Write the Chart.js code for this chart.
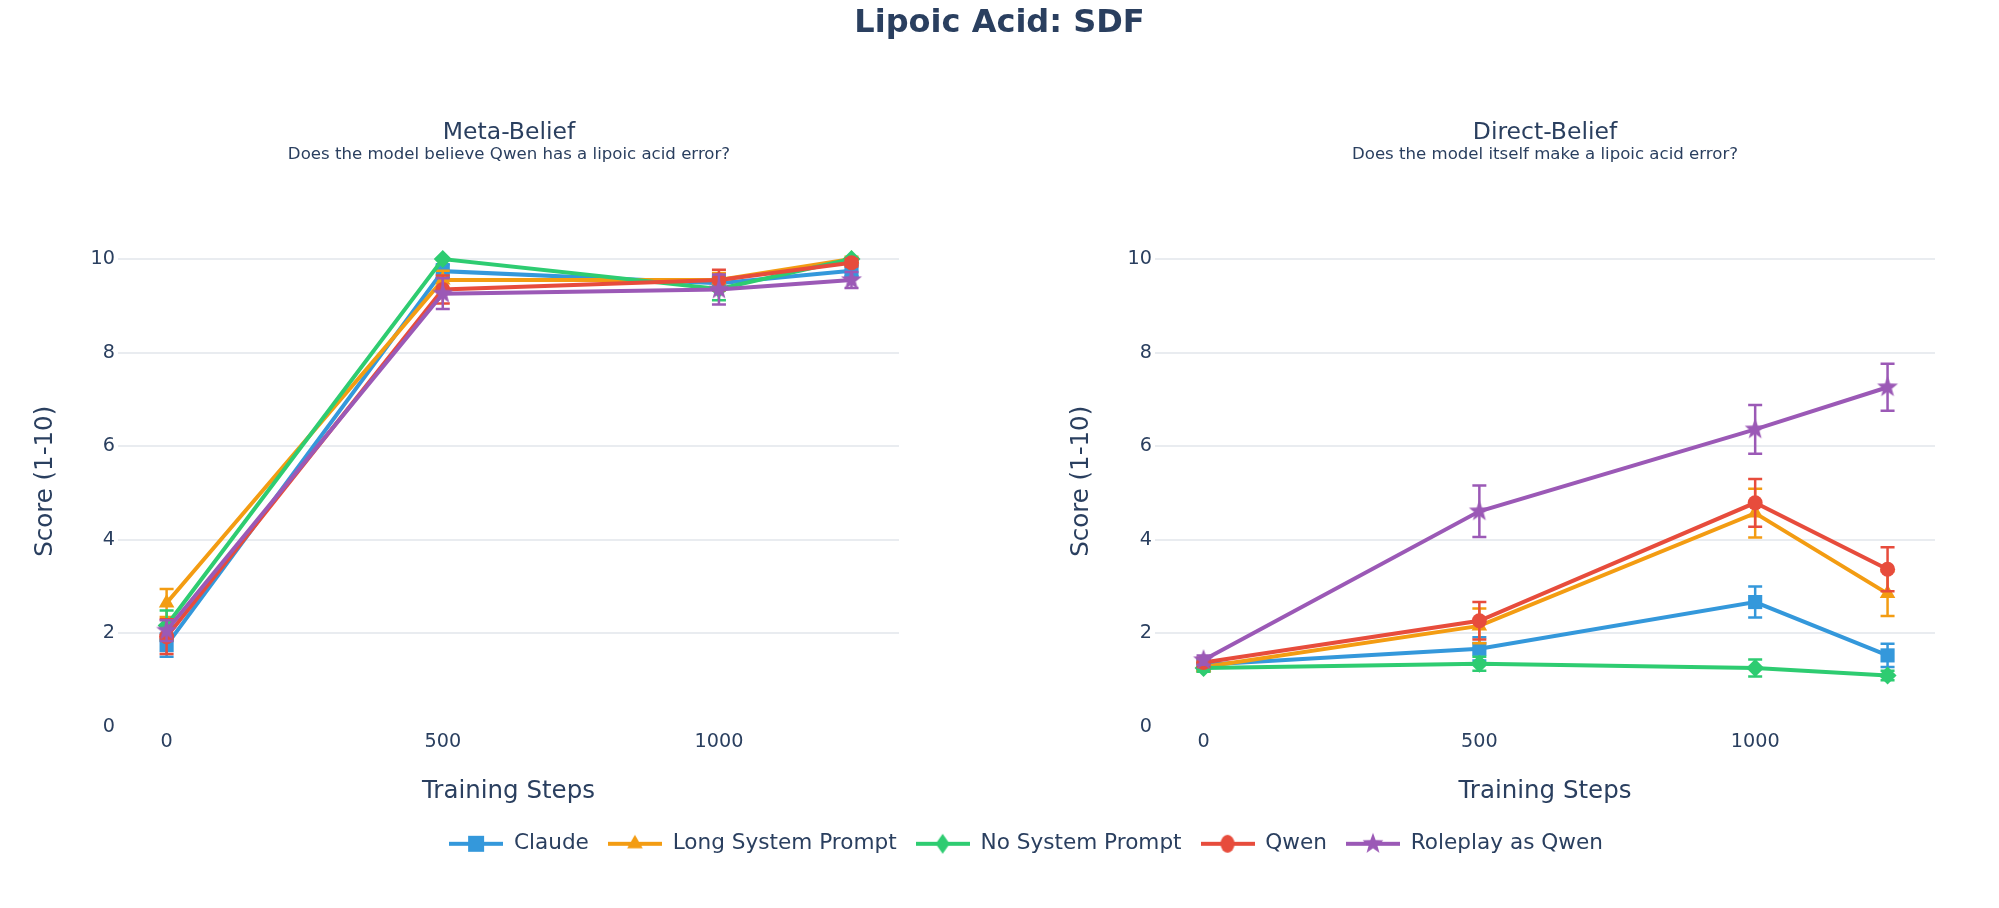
<!DOCTYPE html>
<html>
<head>
<meta charset="utf-8">
<script src="https://cdn.jsdelivr.net/npm/chart.js@4.4.0/dist/chart.umd.min.js"></script>
<style>
  html, body { margin: 0; padding: 0; background: #fff; overflow: hidden; }
  body { width: 1999px; height: 908px; position: relative; }
  canvas { position: absolute; }
  #title { position: absolute; left: 0; top: 0; width: 1999px; text-align: center;
           font: bold 32px 'DejaVu Sans', sans-serif; color: #2a3f5f; line-height: 43px; z-index: 2; }
</style>
</head>
<body>
<div id="title">Lipoic Acid: SDF</div>
<canvas id="meta" width="1018" height="811" style="left:0;top:0"></canvas>
<canvas id="direct" width="1000" height="811" style="left:1045px;top:0"></canvas>
<canvas id="legend" width="1999" height="80" style="left:0;top:814px"></canvas>
<script>
const steps = [0, 500, 1000, 1240];
const xTicks = [0, 500, 1000];
const yTicks = [0, 2, 4, 6, 8, 10];

const seriesNames = ["Claude", "Long System Prompt", "No System Prompt", "Qwen", "Roleplay as Qwen"];
const seriesColors = ["#3498db", "#f39c12", "#2ecc71", "#e74c3c", "#9b59b6"];
const seriesMarkers = ["rect", "triangle", "rectRot", "circle", "star"];

// Meta-Belief, one row per series
const metaValues = [
  [1.75, 9.74, 9.48, 9.75],
  [2.65, 9.55, 9.55, 10.0],
  [2.17, 10.0, 9.36, 10.0],
  [1.93, 9.35, 9.55, 9.92],
  [2.06, 9.26, 9.35, 9.55]
];
const metaErrors = [
  [0.25, 0.15, 0.15, 0.12],
  [0.30, 0.20, 0.15, 0.05],
  [0.32, 0.00, 0.24, 0.00],
  [0.37, 0.30, 0.22, 0.08],
  [0.22, 0.33, 0.32, 0.17]
];

// Direct-Belief
const directValues = [
  [1.33, 1.67, 2.67, 1.53],
  [1.28, 2.16, 4.57, 2.85],
  [1.26, 1.35, 1.26, 1.10],
  [1.38, 2.27, 4.79, 3.37],
  [1.43, 4.61, 6.36, 7.26]
];
const directErrors = [
  [0.10, 0.25, 0.33, 0.25],
  [0.10, 0.37, 0.52, 0.48],
  [0.08, 0.15, 0.18, 0.10],
  [0.10, 0.40, 0.51, 0.47],
  [0.10, 0.55, 0.52, 0.50]
];

const textColor = "#2a3f5f";
const gridColor = "#e9ecf0";
Chart.defaults.font.family = "'DejaVu Sans', sans-serif";
Chart.defaults.color = textColor;

function makeStar(color, outer, inner) {
  const c = document.createElement("canvas");
  c.width = c.height = outer * 2 + 2;
  const ctx = c.getContext("2d");
  const cx = c.width / 2, cy = c.height / 2;
  ctx.beginPath();
  for (let i = 0; i < 10; i++) {
    const r = i % 2 === 0 ? outer : inner;
    const a = -Math.PI / 2 + i * Math.PI / 5;
    ctx.lineTo(cx + r * Math.cos(a), cy + r * Math.sin(a));
  }
  ctx.closePath();
  ctx.fillStyle = color;
  ctx.fill();
  return c;
}

const starImg = makeStar(seriesColors[4], 11, 4.5);
const markerRadius = { rect: 10, triangle: 9, rectRot: 9, circle: 7.5, star: 10 };

function drawMarker(ctx, style, x, y, color) {
  ctx.fillStyle = color;
  ctx.beginPath();
  if (style === "rect") {
    ctx.rect(x - 8, y - 8, 16, 16);
  } else if (style === "triangle") {
    ctx.moveTo(x, y - 9);
    ctx.lineTo(x + 7.8, y + 4.5);
    ctx.lineTo(x - 7.8, y + 4.5);
  } else if (style === "rectRot") {
    ctx.moveTo(x, y - 10);
    ctx.lineTo(x + 7, y);
    ctx.lineTo(x, y + 10);
    ctx.lineTo(x - 7, y);
  } else if (style === "circle") {
    ctx.ellipse(x, y, 7, 9, 0, 0, Math.PI * 2);
  } else {
    const s = makeStar(color, 11, 4.5);
    ctx.drawImage(s, x - s.width / 2, y - s.height / 2);
    return;
  }
  ctx.closePath();
  ctx.fill();
}

function legendIcon(i) {
  const c = document.createElement("canvas");
  c.width = 54; c.height = 24;
  const ctx = c.getContext("2d");
  ctx.strokeStyle = seriesColors[i];
  ctx.lineWidth = 4;
  ctx.beginPath();
  ctx.moveTo(0, 12);
  ctx.lineTo(54, 12);
  ctx.stroke();
  drawMarker(ctx, seriesMarkers[i], 27, 12, seriesColors[i]);
  return c;
}

const errorBars = {
  id: "errorBars",
  beforeDatasetDraw(chart, args) {
    const ds = chart.data.datasets[args.index];
    if (!ds.errors) return;
    const ctx = chart.ctx;
    const xs = chart.scales.x, ys = chart.scales.y;
    ctx.save();
    ctx.strokeStyle = ds.borderColor;
    ctx.lineWidth = 2.5;
    ds.data.forEach((p, i) => {
      const e = ds.errors[i];
      if (!e) return;
      const px = xs.getPixelForValue(p.x);
      const top = ys.getPixelForValue(p.y + e);
      const bot = ys.getPixelForValue(p.y - e);
      ctx.beginPath();
      ctx.moveTo(px, top); ctx.lineTo(px, bot);
      ctx.moveTo(px - 7, top); ctx.lineTo(px + 7, top);
      ctx.moveTo(px - 7, bot); ctx.lineTo(px + 7, bot);
      ctx.stroke();
    });
    ctx.restore();
  }
};

function buildDatasets(values, errors) {
  return seriesNames.map((name, i) => ({
    label: name,
    data: steps.map((s, j) => ({ x: s, y: values[i][j] })),
    errors: errors[i],
    borderColor: seriesColors[i],
    backgroundColor: seriesColors[i],
    borderWidth: 4,
    pointStyle: seriesMarkers[i] === "star" ? starImg : seriesMarkers[i],
    pointRadius: markerRadius[seriesMarkers[i]],
    pointHoverRadius: markerRadius[seriesMarkers[i]],
    pointBorderWidth: 0,
    pointBackgroundColor: seriesColors[i],
    tension: 0,
    clip: false,
    order: seriesNames.length - i
  }));
}

function makePanel(id, values, errors, title, subtitle, yAxisWidth, rightWidth, yTitlePad) {
  return new Chart(document.getElementById(id), {
    type: "line",
    data: { datasets: buildDatasets(values, errors) },
    plugins: [errorBars],
    options: {
      responsive: false,
      animation: false,
      events: [],
      layout: { padding: 0 },
      plugins: {
        legend: { display: false },
        tooltip: { enabled: false },
        title: {
          display: true, text: title, color: textColor,
          font: { size: 23.5, weight: "normal", lineHeight: 1 },
          padding: { top: 121.25, bottom: 0 }
        },
        subtitle: {
          display: true, text: subtitle, color: textColor,
          font: { size: 16.6, lineHeight: 1 },
          padding: { top: 1.25, bottom: 73 }
        }
      },
      scales: {
        x: {
          type: "linear", min: -88, max: 1326,
          afterBuildTicks: axis => { axis.ticks = xTicks.map(v => ({ value: v })); },
          afterFit: s => { s.height = 84; },
          ticks: { font: { size: 19.2 }, color: textColor, padding: 3, callback: v => String(v) },
          grid: {
            drawTicks: false, lineWidth: 3,
            color: c => (c.tick && c.tick.value === 0 ? "#ffffff" : "rgba(0,0,0,0)")
          },
          border: { display: false },
          title: {
            display: true, text: "Training Steps", color: textColor,
            font: { size: 24.5 }, padding: { top: 0, bottom: 5 }
          }
        },
        y: {
          position: "left", min: 0, max: 10.5,
          afterBuildTicks: axis => { axis.ticks = yTicks.map(v => ({ value: v })); },
          afterFit: s => { s.width = yAxisWidth; },
          ticks: { font: { size: 19.2 }, color: textColor, padding: 3 },
          grid: {
            drawTicks: false, lineWidth: 2, z: -1,
            color: c => (c.tick && c.tick.value === 0 ? "rgba(0,0,0,0)" : gridColor)
          },
          border: { display: false },
          title: {
            display: true, text: "Score (1-10)", color: textColor,
            font: { size: 24.5 }, padding: { top: yTitlePad, bottom: 0 }
          }
        },
        yPad: {
          position: "right", display: true,
          afterFit: s => { s.width = rightWidth; },
          ticks: { display: false },
          grid: { display: false },
          border: { display: false }
        }
      }
    }
  });
}

makePanel("meta", metaValues, metaErrors, "Meta-Belief",
  "Does the model believe Qwen has a lipoic acid error?", 118, 119, 31);
makePanel("direct", directValues, directErrors, "Direct-Belief",
  "Does the model itself make a lipoic acid error?", 110, 110, 22);

// shared legend
new Chart(document.getElementById("legend"), {
  type: "line",
  data: {
    datasets: seriesNames.map((name, i) => ({ label: name, data: [], borderColor: seriesColors[i] }))
  },
  options: {
    responsive: false,
    animation: false,
    events: [],
    layout: { padding: { left: 53 } },
    scales: { x: { display: false }, y: { display: false } },
    plugins: {
      tooltip: { enabled: false },
      legend: {
        position: "top",
        labels: {
          usePointStyle: true,
          pointStyleWidth: 54,
          padding: 19,
          color: textColor,
          font: { size: 21.6 },
          generateLabels: chart => chart.data.datasets.map((ds, i) => ({
            text: ds.label,
            fillStyle: ds.borderColor,
            strokeStyle: ds.borderColor,
            lineWidth: 0,
            pointStyle: legendIcon(i),
            hidden: false,
            datasetIndex: i,
            fontColor: textColor
          }))
        }
      }
    }
  }
});
</script>
</body>
</html>
